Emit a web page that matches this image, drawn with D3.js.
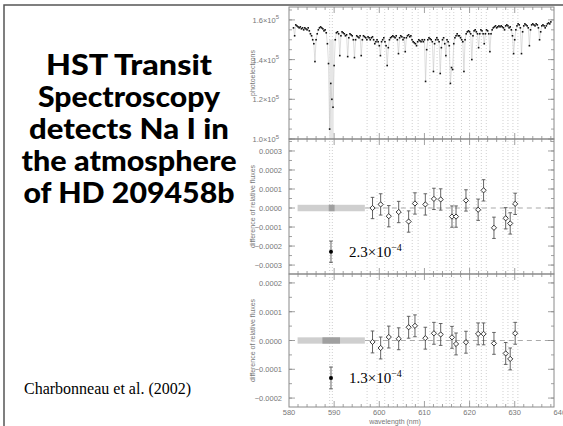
<!DOCTYPE html>
<html><head><meta charset="utf-8">
<script src="https://cdn.jsdelivr.net/npm/d3@7"></script>
<style>
body{margin:0;background:#fff;}
svg{display:block;}
</style></head>
<body>
<svg id="c" width="563" height="426"></svg>
<script>
// ---------------- DATA ----------------
const titleLines = ["HST Transit","Spectroscopy","detects Na I in","the atmosphere","of HD 209458b"];
const citation = "Charbonneau et al. (2002)";

// spectrum (photoelectrons, units of 1e5), sampled every 0.25 nm from 581.0 nm
const specStart = 581.0, specStep = 0.25;
const specFlux = [
1.56,1.52,1.575,1.57,1.565,1.56,1.565,1.555,1.56,1.55,1.56,1.555,1.55,1.56,1.545,1.53,1.52,1.50,1.48,1.39,
1.50,1.53,1.55,1.56,1.565,1.56,1.555,1.545,1.55,1.535,1.48,1.38,1.05,1.28,1.20,1.16,1.37,1.50,1.535,1.54,
1.53,1.42,1.52,1.54,1.535,1.53,1.52,1.525,1.415,1.51,1.53,1.525,1.52,1.50,1.41,1.50,1.52,1.515,1.51,1.52,
1.42,1.50,1.52,1.515,1.51,1.50,1.515,1.51,1.50,1.51,1.515,1.50,1.48,1.49,1.50,1.49,1.47,1.42,1.49,1.50,
1.51,1.49,1.47,1.37,1.46,1.50,1.51,1.515,1.52,1.515,1.51,1.52,1.50,1.43,1.51,1.52,1.515,1.50,1.51,1.44,
1.51,1.52,1.525,1.515,1.52,1.50,1.49,1.485,1.48,1.47,1.49,1.50,1.495,1.49,1.50,1.49,1.50,1.29,1.45,1.50,
1.51,1.505,1.50,1.49,1.34,1.48,1.50,1.51,1.50,1.49,1.33,1.46,1.50,1.51,1.48,1.42,1.50,1.49,1.47,1.28,
1.36,1.35,1.48,1.51,1.52,1.53,1.52,1.52,1.51,1.50,1.49,1.34,1.50,1.53,1.54,1.545,1.54,1.53,1.40,1.52,
1.545,1.55,1.54,1.53,1.46,1.53,1.55,1.545,1.53,1.48,1.53,1.55,1.545,1.53,1.44,1.53,1.55,1.56,1.565,1.57,
1.56,1.565,1.57,1.565,1.57,1.565,1.56,1.55,1.57,1.575,1.57,1.56,1.565,1.55,1.52,1.43,1.50,1.55,1.57,1.58,
1.575,1.56,1.43,1.54,1.57,1.58,1.575,1.57,1.56,1.47,1.55,1.575,1.58,1.575,1.57,1.58,1.575,1.56,1.50,1.54,
1.57,1.575,1.57,1.56,1.57,1.58,1.585,1.58,1.59
];

// spectral channels (nm) and differences of relative fluxes
const chanWave = [598.5,600.3,602.1,604.3,606.5,607.9,610.2,612.1,613.6,616.1,617.0,619.2,621.9,623.1,625.4,628.0,629.0,630.1];
const diffMid  = [0.00000,0.000019,-0.000043,-0.000021,-0.000071,0.000024,0.000019,0.000048,0.000045,-0.000045,-0.000045,0.000040,-0.000009,0.000093,-0.000104,-0.000054,-0.000081,0.000022];
const errMid   = 0.000056;
const diffBot  = [-0.000005,-0.000026,0.000012,0.000006,0.000046,0.000051,0.000008,0.000025,0.000021,0.000011,-0.000012,-0.000006,0.000023,0.000023,-0.000010,-0.000045,-0.000064,0.000025];
const errBot   = 0.000038;

// sodium results
const naWave = 589.3;
const naMid = -0.00023, naMidErr = 0.000056, naMidLabel = "2.3";
const naBot = -0.00013, naBotErr = 0.000038, naBotLabel = "1.3";

// grey reference bands: [start, end] in nm, dark core
const bandRange = [581.9, 596.8];
const coreMid = [588.8, 590.1];
const coreBot = [587.4, 591.3];

// dotted channel boundaries (nm)
const gridLines = [589.0,589.6,597.3,599.5,601.2,603.1,605.3,607.3,608.6,611.2,612.8,614.8,615.6,616.5,618.2,620.0,621.5,622.6,623.7,627.4,628.5,629.6,630.7];

const xTickLabels = [580,590,600,610,620,630,640];
const topTicks = [1.0,1.2,1.4,1.6];
const midTicks = [0.0003,0.0002,0.0001,0,-0.0001,-0.0002,-0.0003];
const botTicks = [0.0002,0.0001,0,-0.0001,-0.0002];

// ---------------- DRAW ----------------
const svg = d3.select("#c");
const axisCol = "#8a8a8a", labCol = "#777";
const tickFont = "Liberation Sans, Arial, sans-serif";

// slide frame
svg.append("path").attr("d","M4,430 L4,5 L570,5").attr("fill","none").attr("stroke","#555").attr("stroke-width",1.5);

// title
const titleW = [166,182,200,215,211];
const title = svg.append("text").attr("font-family","Lato, 'Open Sans', sans-serif").attr("font-weight","900")
  .attr("font-size",28).attr("fill","#000").attr("text-anchor","middle");
titleLines.forEach((t,i)=>title.append("tspan").attr("x",129).attr("y",75+i*32)
  .attr("textLength",titleW[i]).attr("lengthAdjust","spacingAndGlyphs").text(t));

svg.append("text").attr("x",24).attr("y",394).attr("font-family","'Liberation Serif', 'Times New Roman', serif")
  .attr("font-size",16).attr("fill","#000").text(citation);

const x = d3.scaleLinear().domain([580,638.7]).range([289,554]);
const yTop = d3.scaleLinear().domain([1.0,1.665]).range([139,7]);
const yMid = d3.scaleLinear().domain([-0.000347,0.000363]).range([274,139]);
const yBot = d3.scaleLinear().domain([-0.000231,0.000231]).range([407,274]);

const panels = [yTop,yMid,yBot];

// grid lines (dotted)
panels.forEach(y=>{
  svg.append("g").selectAll("line").data(gridLines).join("line")
    .attr("x1",d=>x(d)).attr("x2",d=>x(d)).attr("y1",y.range()[0]).attr("y2",y.range()[1])
    .attr("stroke","#bbb").attr("stroke-width",0.7).attr("stroke-dasharray","1,2");
});

// top panel: Na band
svg.append("rect").attr("x",x(588.9)).attr("width",x(589.9)-x(588.9)).attr("y",yTop(1.5)).attr("height",yTop(1.0)-yTop(1.5))
  .attr("fill","#e6e6e6");

// spectrum
const spec = specFlux.map((v,i)=>[specStart+i*specStep, v]);
svg.append("path").datum(spec).attr("fill","none").attr("stroke","#c8c8c8").attr("stroke-width",0.6)
  .attr("d",d3.line().x(d=>x(d[0])).y(d=>yTop(d[1])));
svg.append("g").selectAll("rect").data(spec).join("rect")
  .attr("x",d=>x(d[0])-0.8).attr("y",d=>yTop(d[1])-0.8).attr("width",1.6).attr("height",1.6).attr("fill","#111");

// bands + dashed zero lines
[[yMid,coreMid,0.000017],[yBot,coreBot,0.000011]].forEach(([y,core,h])=>{
  svg.append("line").attr("x1",x(bandRange[1])).attr("x2",x(638.7)).attr("y1",y(0)).attr("y2",y(0))
    .attr("stroke","#aaa").attr("stroke-width",1.2).attr("stroke-dasharray","5,4");
  svg.append("rect").attr("x",x(bandRange[0])).attr("width",x(bandRange[1])-x(bandRange[0]))
    .attr("y",y(h)).attr("height",y(-h)-y(h)).attr("fill","#cfcfcf");
  svg.append("rect").attr("x",x(core[0])).attr("width",x(core[1])-x(core[0]))
    .attr("y",y(h)).attr("height",y(-h)-y(h)).attr("fill","#a0a0a0");
});

// error-bar points
function points(y,vals,err){
  const g = svg.append("g");
  const d = chanWave.map((w,i)=>({w,v:vals[i]}));
  g.selectAll("line.e").data(d).join("line").attr("x1",p=>x(p.w)).attr("x2",p=>x(p.w))
    .attr("y1",p=>y(p.v+err)).attr("y2",p=>y(p.v-err)).attr("stroke","#555").attr("stroke-width",0.9);
  [1,-1].forEach(s=>{
    g.selectAll("line.c"+s).data(d).join("line").attr("x1",p=>x(p.w)-1.8).attr("x2",p=>x(p.w)+1.8)
      .attr("y1",p=>y(p.v+s*err)).attr("y2",p=>y(p.v+s*err)).attr("stroke","#555").attr("stroke-width",0.9);
  });
  g.selectAll("path").data(d).join("path")
    .attr("d",p=>{const cx=x(p.w), cy=y(p.v), r=2.6; return `M${cx},${cy-r}L${cx+r},${cy}L${cx},${cy+r}L${cx-r},${cy}Z`;})
    .attr("fill","#fff").attr("stroke","#222").attr("stroke-width",0.9);
}
points(yMid,diffMid,errMid);
points(yBot,diffBot,errBot);

// Na points
[[yMid,naMid,naMidErr,naMidLabel],[yBot,naBot,naBotErr,naBotLabel]].forEach(([y,v,e,lab])=>{
  svg.append("line").attr("x1",x(naWave)).attr("x2",x(naWave)).attr("y1",y(v+e)).attr("y2",y(v-e)).attr("stroke","#555").attr("stroke-width",0.9);
  [1,-1].forEach(s=>svg.append("line").attr("x1",x(naWave)-1.8).attr("x2",x(naWave)+1.8).attr("y1",y(v+s*e)).attr("y2",y(v+s*e)).attr("stroke","#555").attr("stroke-width",0.9));
  svg.append("circle").attr("cx",x(naWave)).attr("cy",y(v)).attr("r",2).attr("fill","#000");
  const t = svg.append("text").attr("x",x(naWave)+18).attr("y",y(v)+5).attr("font-family","'Liberation Serif','Times New Roman',serif")
    .attr("font-size",15).attr("fill","#000");
  t.append("tspan").text(lab+"×10");
  t.append("tspan").attr("dy",-6).attr("font-size",10).text("−4");
});

// frames & ticks
const minorX = d3.range(582,639,2).filter(v=>v%10!==0);
panels.forEach((y,pi)=>{
  const [b,t] = y.range();
  svg.append("rect").attr("x",x(580)).attr("y",t).attr("width",x(638.7)-x(580)).attr("height",b-t)
    .attr("fill","none").attr("stroke",axisCol).attr("stroke-width",1);
  const g = svg.append("g").attr("stroke",axisCol).attr("stroke-width",0.8);
  xTickLabels.filter(v=>v>580&&v<638.7).forEach(v=>{
    g.append("line").attr("x1",x(v)).attr("x2",x(v)).attr("y1",b).attr("y2",b-6);
    g.append("line").attr("x1",x(v)).attr("x2",x(v)).attr("y1",t).attr("y2",t+6);
  });
  minorX.forEach(v=>{
    g.append("line").attr("x1",x(v)).attr("x2",x(v)).attr("y1",b).attr("y2",b-3);
    g.append("line").attr("x1",x(v)).attr("x2",x(v)).attr("y1",t).attr("y2",t+3);
  });
});

function yAxis(y,ticks,minorStep,fmt){
  const g = svg.append("g").attr("stroke",axisCol).attr("stroke-width",0.8);
  const dom = y.domain();
  ticks.forEach(v=>{
    [x(580),x(638.7)].forEach((xx,k)=>{
      g.append("line").attr("x1",xx).attr("x2",xx+(k?-6:6)).attr("y1",y(v)).attr("y2",y(v));
    });
  });
  const minors = d3.range(Math.ceil(dom[0]/minorStep),Math.floor(dom[1]/minorStep)+1).map(k=>k*minorStep);
  minors.forEach(v=>{
    [x(580),x(638.7)].forEach((xx,k)=>{
      g.append("line").attr("x1",xx).attr("x2",xx+(k?-3:3)).attr("y1",y(v)).attr("y2",y(v));
    });
  });
  ticks.forEach(v=>fmt(v,y(v)));
}
function plainLab(v,yy){
  svg.append("text").attr("x",282).attr("y",yy+3).attr("text-anchor","end").attr("font-family",tickFont)
    .attr("font-size",7.5).attr("fill",labCol).text(v<0?"−"+Math.abs(v).toFixed(4):v.toFixed(4));
}
yAxis(yTop,topTicks,0.05,(v,yy)=>{
  const t = svg.append("text").attr("x",279).attr("y",yy+3).attr("text-anchor","end").attr("font-family",tickFont)
    .attr("font-size",7.5).attr("fill",labCol);
  t.append("tspan").text(v.toFixed(1)+"×10");
  t.append("tspan").attr("dy",-3.5).attr("font-size",6).text("5");
});
yAxis(yMid,midTicks,0.00005,plainLab);
yAxis(yBot,botTicks,0.00005,plainLab);

// x labels
svg.append("g").selectAll("text").data(xTickLabels).join("text")
  .attr("x",d=>x(d)).attr("y",415).attr("text-anchor","middle").attr("font-family",tickFont)
  .attr("font-size",7.5).attr("fill",labCol).text(d=>d);
svg.append("text").attr("x",395).attr("y",424).attr("text-anchor","middle").attr("font-family",tickFont)
  .attr("font-size",7).attr("fill",labCol).text("wavelength (nm)");

// y titles
[["photoelectrons",yTop],["difference of relative fluxes",yMid],["difference of relative fluxes",yBot]].forEach(([s,y])=>{
  const cy = (y.range()[0]+y.range()[1])/2;
  svg.append("text").attr("transform",`translate(255,${cy}) rotate(-90)`).attr("text-anchor","middle")
    .attr("font-family",tickFont).attr("font-size",7).attr("fill",labCol).text(s);
});
</script>
</body></html>
